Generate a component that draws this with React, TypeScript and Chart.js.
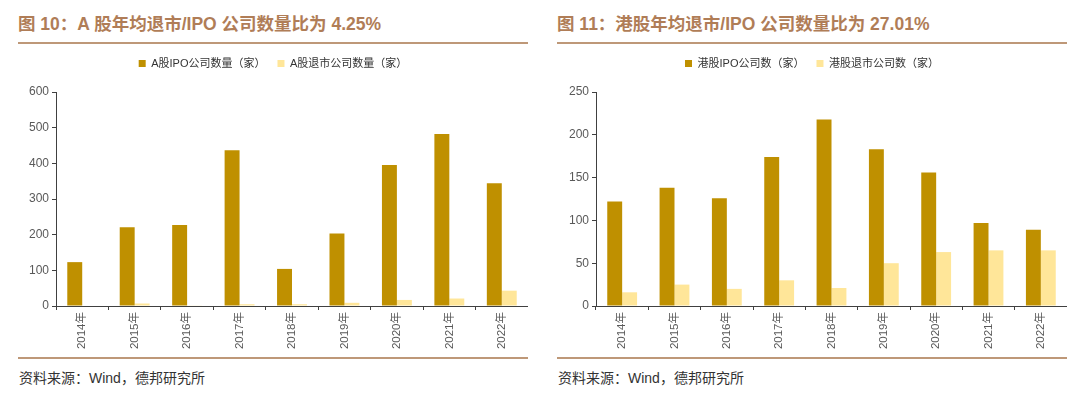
import React, { useEffect, useRef } from "react";
import { Chart, registerables } from "chart.js";

Chart.register(...registerables);

const years = ["2014年", "2015年", "2016年", "2017年", "2018年", "2019年", "2020年", "2021年", "2022年"];

const aIpo = [123, 221, 227, 437, 104, 203, 395, 482, 344];
const aDelist = [0, 7, 1, 5, 5, 9, 17, 21, 43];
const aTicks = [0, 100, 200, 300, 400, 500, 600];

const hkIpo = [122, 138, 126, 174, 218, 183, 156, 97, 89];
const hkDelist = [16, 25, 20, 30, 21, 50, 63, 65, 65];
const hkTicks = [0, 50, 100, 150, 200, 250];

const aLabels = ["A股IPO公司数量（家）", "A股退市公司数量（家）"];
const hkLabels = ["港股IPO公司数（家）", "港股退市公司数（家）"];

const aTitle = "图 10：A 股年均退市/IPO 公司数量比为 4.25%";
const hkTitle = "图 11：港股年均退市/IPO 公司数量比为 27.01%";
const sourceText = "资料来源：Wind，德邦研究所";

const IPO_COLOR = "#BF9000";
const DELIST_COLOR = "#FFE699";
const TITLE_COLOR = "#B07D57";
const RULE_COLOR = "#BE9878";
const FONT = "'Liberation Sans', 'Noto Sans CJK SC', sans-serif";

type PanelProps = {
  left: number;
  title: string;
  labels: string[];
  ipo: number[];
  delist: number[];
  ticks: number[];
  yAxisWidth: number;
};

function Panel(props: PanelProps) {
  const ref = useRef<HTMLCanvasElement | null>(null);
  useEffect(() => {
    if (!ref.current) return;
    const yMax = props.ticks[props.ticks.length - 1];
    const step = props.ticks[1] - props.ticks[0];
    const legendSpacer = {
      id: "legendSpacer",
      beforeInit(chart: any) {
        const orig = chart.legend.fit;
        chart.legend.fit = function () {
          orig.bind(chart.legend)();
          this.height = 46;
        };
      },
    };
    const chart = new Chart(ref.current, {
      type: "bar",
      data: {
        labels: years,
        datasets: [
          { label: props.labels[0], data: props.ipo, backgroundColor: IPO_COLOR, categoryPercentage: 0.57, barPercentage: 1 },
          { label: props.labels[1], data: props.delist, backgroundColor: DELIST_COLOR, categoryPercentage: 0.57, barPercentage: 1 },
        ],
      },
      options: {
        animation: false,
        responsive: false,
        maintainAspectRatio: false,
        layout: { padding: 0 },
        plugins: {
          legend: {
            position: "top",
            labels: {
              boxWidth: 7,
              boxHeight: 7,
              padding: 12,
              color: "#333333",
              font: { family: FONT, size: 11 },
            },
          },
          tooltip: { enabled: false },
        },
        scales: {
          x: {
            grid: { display: true, drawOnChartArea: false, drawTicks: true, tickLength: 4, color: "#404040", offset: true },
            border: { color: "#404040", width: 1 },
            ticks: {
              minRotation: 90,
              maxRotation: 90,
              color: "#595959",
              padding: 2,
              font: { family: FONT, size: 11.5 },
            },
            afterFit(scale: any) {
              scale.height = 46;
            },
          },
          y: {
            min: 0,
            max: yMax,
            grid: { display: true, drawOnChartArea: false, drawTicks: true, tickLength: 4, color: "#404040" },
            border: { color: "#404040", width: 1 },
            ticks: {
              stepSize: step,
              color: "#595959",
              padding: 3,
              font: { family: FONT, size: 12 },
            },
            afterFit(scale: any) {
              scale.width = props.yAxisWidth;
            },
          },
        },
      },
      plugins: [legendSpacer],
    } as any);
    return () => chart.destroy();
  }, []);

  const l = props.left;
  return (
    <>
      <div
        style={{
          position: "absolute",
          left: l,
          top: 14,
          fontFamily: FONT,
          fontWeight: "bold",
          fontSize: 17.5,
          color: TITLE_COLOR,
          whiteSpace: "nowrap",
          lineHeight: "20px",
        }}
      >
        {props.title}
      </div>
      <div style={{ position: "absolute", left: l, top: 42, width: 510, height: 2, background: RULE_COLOR }} />
      <canvas
        ref={ref}
        width={510}
        height={306}
        style={{ position: "absolute", left: l, top: 46, width: 510, height: 306 }}
      />
      <div style={{ position: "absolute", left: l, top: 357, width: 510, height: 2, background: RULE_COLOR }} />
      <div
        style={{
          position: "absolute",
          left: l + 1,
          top: 368,
          fontFamily: FONT,
          fontSize: 14,
          color: "#333333",
          whiteSpace: "nowrap",
          lineHeight: "20px",
        }}
      >
        {sourceText}
      </div>
    </>
  );
}

export default function App() {
  return (
    <div style={{ position: "absolute", left: 0, top: 0, width: 1080, height: 405, background: "#ffffff", overflow: "hidden" }}>
      <Panel left={18} title={aTitle} labels={aLabels} ipo={aIpo} delist={aDelist} ticks={aTicks} yAxisWidth={38} />
      <Panel left={557} title={hkTitle} labels={hkLabels} ipo={hkIpo} delist={hkDelist} ticks={hkTicks} yAxisWidth={39} />
    </div>
  );
}
